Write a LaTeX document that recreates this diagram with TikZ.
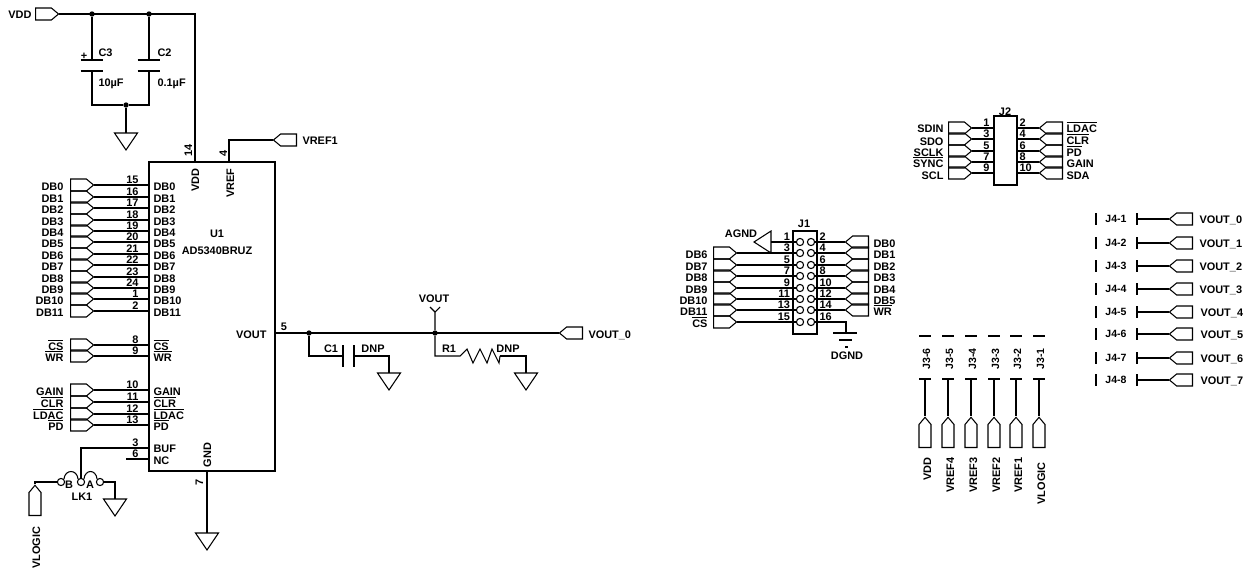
\documentclass[tikz,border=0pt]{standalone}
\usepackage{fontspec}
\setmainfont{Liberation Sans}
\usetikzlibrary{shapes.symbols}

\newcommand{\ovl}[1]{\ensuremath{\overline{\mbox{#1}}}}

\tikzset{
    lbl/.style={font=\fontsize{8.2}{9}\selectfont\bfseries,inner sep=0pt},
    smalllbl/.style={font=\fontsize{7.9}{9}\selectfont\bfseries,inner sep=0pt},
    port/.style={draw,shape=signal,signal pointer angle=80,inner sep=0pt},
    portr/.style={port,signal to=east,minimum width=17.25pt,minimum height=9pt,anchor=west},
    portl/.style={port,signal to=west,minimum width=17.25pt,minimum height=9pt,anchor=east},
    portu/.style={port,signal to=north,minimum width=9pt,minimum height=17.25pt,anchor=south},
    pad/.style={draw,circle,inner sep=0pt,minimum size=5.4pt},
    dot/.style={fill,circle,inner sep=0pt,minimum size=4pt},
    box/.style={draw,inner sep=0pt},
    gnd/.pic={\draw (-11.5,0) -- (11.5,0) -- (0,17) -- cycle;}
}

\begin{document}
\begin{tikzpicture}[x=0.75pt,y=-0.75pt,line width=0.8pt]
    \useasboundingbox (0,0) rectangle (1248,571);

    % U1
    \node[box,minimum width=94.5pt,minimum height=231.75pt] (u1) at (212,316.5) {};
    \node[lbl] (u1name) at (217,234) {U1};
    \node[lbl] (u1part) at (217,251) {AD5340BRUZ};

    \foreach \n/\y/\txt in {15/185/DB0,16/197/DB1,17/208/DB2,18/220/DB3,19/231/DB4,20/242/DB5,
        21/254/DB6,22/265/DB7,23/277/DB8,24/288/DB9,1/299/DB10,2/311/DB11,
        8/345/{\ovl{CS}},9/356/{\ovl{WR}},10/390/GAIN,11/402/{\ovl{CLR}},12/414/{\ovl{LDAC}},13/425/{\ovl{PD}}}
    {
        \node[portr] (up\n) at (70,\y) {};
        \draw (up\n.east) -- (up\n -| u1.west);
        \node[lbl,anchor=base east] (ul\n) at (64,\y+5) {\txt};
        \node[lbl,anchor=base west] (ui\n) at (153,\y+5) {\txt};
        \node[lbl,anchor=base east] (un\n) at (139,\y-2) {\n};
    }

    % VDD and decoupling
    \node[portr] (vddp) at (35,14) {};
    \node[lbl,anchor=base east] (vddl) at (32,18) {VDD};
    \coordinate (vddin) at (195,162);
    \draw (vddp.east) -- (vddp -| vddin) -- (vddin);
    \node[dot] (d3) at (92,14) {};
    \node[dot] (d2) at (149,14) {};
    \node[dot] (d4) at (126,105) {};
    \coordinate (c3t) at (92,60);
    \coordinate (c3b) at (92,71);
    \coordinate (c2t) at (149,60);
    \coordinate (c2b) at (149,71);
    \draw (d3) -- (c3t) (c3b) |- (d4);
    \draw (d2) -- (c2t) (c2b) |- (d4);
    \draw ([xshift=-8.6pt]c3t) -- ([xshift=8.6pt]c3t);
    \draw ([xshift=-8.6pt]c3b) -- ([xshift=8.6pt]c3b);
    \draw ([xshift=-8.6pt]c2t) -- ([xshift=8.6pt]c2t);
    \draw ([xshift=-8.6pt]c2b) -- ([xshift=8.6pt]c2b);
    \node[lbl] (plus) at (84,56) {+};
    \node[lbl,anchor=base west] (c3l) at (98,56) {C3};
    \node[lbl,anchor=base west] (c3v) at (98,86) {10µF};
    \node[lbl,anchor=base west] (c2l) at (157,56) {C2};
    \node[lbl,anchor=base west] (c2v) at (157,86) {0.1µF};
    \coordinate (g1) at (126,133);
    \draw (d4) -- (g1);
    \pic at (g1) {gnd};

    % top pins
    \node[lbl,rotate=90,anchor=base] (n14) at (192,150) {14};
    \node[lbl,rotate=90,anchor=base] (n4) at (227,153) {4};
    \node[lbl,rotate=90,anchor=base] (vddi) at (199,180) {VDD};
    \node[lbl,rotate=90,anchor=base] (vrefi) at (234,183) {VREF};
    \node[portl] (vrefp) at (297,140) {};
    \node[lbl,anchor=base west] (vrefl) at (302,144) {VREF1};
    \coordinate (vrefin) at (229,162);
    \draw (vrefp.west) -- (vrefp -| vrefin) -- (vrefin);

    % BUF, NC, LK1
    \node[lbl,anchor=base west] (bufl) at (153,452) {BUF};
    \node[lbl,anchor=base west] (ncl) at (153,464) {NC};
    \node[lbl,anchor=base east] (n3) at (139,446) {3};
    \node[lbl,anchor=base east] (n6) at (139,457) {6};
    \node[pad] (lkb) at (61,482) {};
    \node[pad] (lkm) at (81,482) {};
    \node[pad] (lka) at (100,482) {};
    \coordinate (bufin) at (149,448);
    \coordinate (ncin) at (149,459);
    \coordinate (ncend) at (126,459);
    \draw (bufin) -| (lkm.north);
    \draw (ncin) -- (ncend);
    \draw (lkb.north east) .. controls (65,469) and (77,469) .. (lkm.north west);
    \draw (lkm.north east) .. controls (85,469) and (96,469) .. (lka.north west);
    \node[lbl] (lkbl) at (69,485) {B};
    \node[lbl] (lkal) at (90,485) {A};
    \node[lbl] (lkn) at (82,497) {LK1};
    \node[portu] (vlogp) at (35,516) {};
    \node[lbl,rotate=90,anchor=base] (vlogl) at (40,548) {VLOGIC};
    \draw (vlogp.north) |- (lkb.west);
    \coordinate (g2) at (115,499);
    \draw (lka.east) -| (g2);
    \pic at (g2) {gnd};

    % GND
    \node[lbl,rotate=90,anchor=base] (gndi) at (211,455) {GND};
    \node[lbl,rotate=90,anchor=base] (n7) at (203,482) {7};
    \coordinate (gndo) at (207,471);
    \coordinate (g3) at (207,533);
    \draw (gndo) -- (g3);
    \pic at (g3) {gnd};

    % output
    \node[lbl,anchor=base east] (vouti) at (267,338) {VOUT};
    \node[lbl] (n5) at (284,327) {5};
    \node[portl] (voutp) at (583,333) {};
    \node[lbl,anchor=base west] (voutl) at (588,338) {VOUT\_0};
    \node[dot] (d5) at (309,333) {};
    \node[dot] (d6) at (435,333) {};
    \draw (voutp.west) -- (voutp -| u1.east);
    \coordinate (vy) at (435,312);
    \coordinate (vyl) at (430,307);
    \coordinate (vyr) at (440,307);
    \draw (d6) -- (vy) (vyl) -- (vy) -- (vyr);
    \node[lbl] (voutn) at (434,299) {VOUT};
    \coordinate (c1a) at (343,356);
    \coordinate (c1b) at (354,356);
    \coordinate (g4) at (389,373);
    \draw (d5) |- (c1a);
    \draw (c1b) -| (g4);
    \draw (343,345) -- (343,367);
    \draw (354,345) -- (354,367);
    \pic at (g4) {gnd};
    \node[lbl] (c1l) at (331,349) {C1};
    \node[lbl] (c1d) at (373,349) {DNP};
    \coordinate (r1a) at (460,356);
    \coordinate (r1b) at (500,356);
    \coordinate (g5) at (526,373);
    \draw (d6) |- (r1a) -- (467,349) -- (473,363) -- (480,349) -- (487,363) -- (492,349) -- (499,363) -- (r1b);
    \draw (r1b) -| (g5);
    \pic at (g5) {gnd};
    \node[lbl] (r1l) at (449,349) {R1};
    \node[lbl] (r1d) at (508,349) {DNP};

    % J1
    \node[box,minimum width=18pt,minimum height=77.25pt] (j1) at (805,282.5) {};
    \node[lbl] (j1l) at (804,224) {J1};
    \foreach \n/\y in {1/242,3/253,5/265,7/276,9/288,11/299,13/310,15/322}
    {
        \node[pad] (ja\n) at (800,\y) {};
        \node[lbl,anchor=base east] (jan\n) at (790.5,\y-2) {\n};
    }
    \foreach \n/\y in {2/242,4/253,6/265,8/276,10/288,12/299,14/310,16/322}
    {
        \node[pad] (jb\n) at (811,\y) {};
        \node[lbl,anchor=base west] (jbn\n) at (819,\y-2) {\n};
    }
    \foreach \n/\y/\txt in {3/253/DB6,5/265/DB7,7/276/DB8,9/288/DB9,11/299/DB10,13/310/DB11,15/322/{\ovl{CS}}}
    {
        \node[portr] (jap\n) at (713,\y) {};
        \node[lbl,anchor=base east] (jal\n) at (708,\y+5) {\txt};
        \draw (jap\n.east) -- (ja\n);
    }
    \foreach \n/\y/\txt in {2/242/DB0,4/253/DB1,6/265/DB2,8/276/DB3,10/288/DB4,12/299/DB5,14/310/{\ovl{WR}}}
    {
        \node[portl] (jbp\n) at (869,\y) {};
        \node[lbl,anchor=base west] (jbl\n) at (873,\y+5) {\txt};
        \draw (jbp\n.west) -- (jb\n);
    }
    \node[lbl] (agnd) at (741,234) {AGND};
    \coordinate (agt) at (771,242);
    \draw (771,231) -- (754,242) -- (771,253) -- cycle;
    \draw (agt) -- (ja1);
    \coordinate (dg) at (846,333);
    \draw (jb16) -| (dg);
    \draw (833,333) -- (857,333);
    \draw (839,340) -- (852,340);
    \draw (845,347) -- (848,347);
    \node[lbl] (dgnd) at (847,356) {DGND};

    % J2
    \node[box,minimum width=17.25pt,minimum height=51.75pt] (j2) at (1005.5,150.5) {};
    \node[lbl] (j2l) at (1005,112) {J2};
    \foreach \n/\y/\ly/\txt in {1/128/128/SDIN,3/139/141/SDO,5/151/152/SCLK,7/162/163/{\ovl{SYNC}},9/173/175/SCL}
    {
        \node[portr] (kap\n) at (948,\y) {};
        \node[lbl,anchor=base east] (kal\n) at (944,\ly+4) {\txt};
        \node[lbl,anchor=base east] (kan\n) at (990,\y-2) {\n};
        \draw (kap\n.east) -- (kap\n -| j2.west);
    }
    \foreach \n/\y/\ly/\txt in {2/128/128/{\ovl{LDAC}},4/139/140/{\ovl{CLR}},6/151/152/{\ovl{PD}},8/162/163/GAIN,10/173/175/SDA}
    {
        \node[portl] (kbp\n) at (1063,\y) {};
        \node[lbl,anchor=base west] (kbl\n) at (1066,\ly+4) {\txt};
        \node[lbl,anchor=base west] (kbn\n) at (1019,\y-2) {\n};
        \draw (kbp\n.west) -- (kbp\n -| j2.east);
    }

    % J3
    \foreach \n/\x/\txt/\ly in {6/925/VDD/457,5/948/VREF4/457,4/971/VREF3/457,3/994/VREF2/457,2/1016/VREF1/457,1/1039/VLOGIC/462}
    {
        \coordinate (j3a\n) at (\x,379);
        \node[portu] (j3p\n) at (\x,448) {};
        \node[smalllbl,rotate=90,anchor=base] (j3l\n) at (\x+5,359) {J3-\n};
        \node[lbl,rotate=90,anchor=base east] (j3t\n) at (\x+6,\ly) {\txt};
        \draw (\x-6,336) -- (\x+6,336);
        \draw (\x-6,379) -- (\x+6,379);
        \draw (j3a\n) -- (j3p\n.north);
    }

    % J4
    \foreach \n/\y/\lx/\k in {1/219/1199/0,2/243/1199/1,3/266/1199/2,4/289/1199/3,5/312/1200/4,6/334/1200/5,7/358/1200/6,8/380/1200/7}
    {
        \coordinate (j4a\n) at (1137,\y);
        \node[portl] (j4p\n) at (1193,\y) {};
        \node[smalllbl,anchor=base] (j4l\n) at (1116,\y+3) {J4-\n};
        \node[lbl,anchor=base west] (j4t\n) at (\lx,\y+4) {VOUT\_\k};
        \draw (1096,\y-6) -- (1096,\y+6);
        \draw (1137,\y-6) -- (1137,\y+6);
        \draw (j4a\n) -- (j4p\n.west);
    }
\end{tikzpicture}
\end{document}
